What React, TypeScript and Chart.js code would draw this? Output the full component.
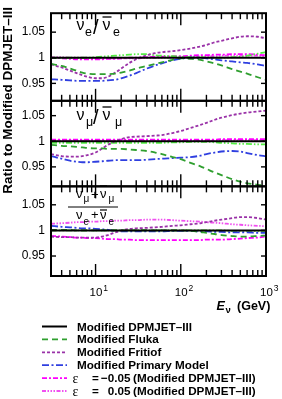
import { useEffect, useRef } from "react";
import { Chart, registerables } from "chart.js";

Chart.register(...registerables);

// ---------------- data ----------------
const energies = [3, 4, 5, 6, 7, 8, 10, 12, 14, 17, 20, 25, 30, 40, 50, 60, 80, 100, 130, 170, 200, 250, 300, 400, 500, 600, 800, 1000];
const dpmjetEnergies = [3, 1000];
const dpmjetRatio = [1, 1];

// panel 1: nu_e / nubar_e
const nueFluka = [0.988, 0.984, 0.979, 0.975, 0.971, 0.969, 0.968, 0.968, 0.968, 0.969, 0.971, 0.975, 0.979, 0.984, 0.988, 0.991, 0.996, 0.999, 0.998, 0.996, 0.993, 0.989, 0.985, 0.978, 0.973, 0.969, 0.962, 0.957];
const nueFritiof = [0.987, 0.981, 0.975, 0.970, 0.966, 0.963, 0.960, 0.960, 0.963, 0.971, 0.979, 0.990, 0.997, 1.005, 1.009, 1.011, 1.013, 1.015, 1.018, 1.022, 1.025, 1.030, 1.033, 1.038, 1.041, 1.042, 1.041, 1.038];
const nuePrimary = [0.958, 0.957, 0.956, 0.955, 0.955, 0.955, 0.955, 0.955, 0.956, 0.957, 0.960, 0.965, 0.970, 0.979, 0.985, 0.989, 0.995, 0.998, 1.000, 1.000, 0.999, 0.997, 0.995, 0.993, 0.991, 0.990, 0.987, 0.984];
const nueOther = [1.000, 1.000, 1.000, 1.000, 1.000, 1.000, 1.001, 1.002, 1.003, 1.004, 1.005, 1.006, 1.007, 1.007, 1.005, 1.004, 1.003, 1.002, 1.001, 1.001, 1.000, 1.000, 1.000, 1.001, 1.002, 1.004, 1.008, 1.011];
const nueEpsMinus = [1.000, 0.999, 0.998, 0.997, 0.997, 0.997, 0.997, 0.997, 0.998, 0.998, 0.999, 1.000, 1.000, 1.001, 1.002, 1.002, 1.003, 1.003, 1.004, 1.005, 1.005, 1.006, 1.006, 1.007, 1.007, 1.007, 1.006, 1.005];
const nueEpsPlus = [1.001, 1.001, 1.000, 1.000, 1.000, 1.000, 0.999, 0.999, 0.999, 0.999, 0.999, 0.999, 0.999, 1.000, 1.000, 1.000, 1.001, 1.001, 1.002, 1.002, 1.003, 1.003, 1.004, 1.004, 1.004, 1.004, 1.004, 1.003];

// panel 2: nu_mu / nubar_mu
const numuFluka = [0.993, 0.991, 0.990, 0.989, 0.988, 0.987, 0.986, 0.986, 0.985, 0.985, 0.985, 0.984, 0.983, 0.981, 0.978, 0.975, 0.969, 0.965, 0.958, 0.951, 0.946, 0.939, 0.934, 0.926, 0.921, 0.918, 0.915, 0.913];
const numuFritiof = [0.975, 0.971, 0.970, 0.970, 0.971, 0.973, 0.978, 0.986, 0.993, 1.000, 1.004, 1.008, 1.009, 1.010, 1.011, 1.012, 1.016, 1.020, 1.026, 1.032, 1.036, 1.042, 1.046, 1.051, 1.054, 1.056, 1.058, 1.060];
const numuPrimary = [0.971, 0.966, 0.962, 0.960, 0.959, 0.959, 0.960, 0.961, 0.962, 0.963, 0.963, 0.963, 0.963, 0.964, 0.965, 0.966, 0.967, 0.968, 0.969, 0.972, 0.975, 0.978, 0.980, 0.981, 0.980, 0.977, 0.973, 0.971];
const numuOther = [0.997, 0.997, 0.997, 0.997, 0.997, 0.997, 0.997, 0.997, 0.997, 0.997, 0.997, 0.997, 0.997, 0.997, 0.997, 0.997, 0.998, 0.998, 0.999, 0.999, 0.999, 0.998, 0.997, 0.996, 0.995, 0.995, 0.994, 0.994];
const numuEpsMinus = [1.003, 1.003, 1.003, 1.003, 1.003, 1.003, 1.003, 1.003, 1.003, 1.003, 1.003, 1.003, 1.003, 1.003, 1.003, 1.003, 1.003, 1.003, 1.003, 1.003, 1.003, 1.003, 1.004, 1.004, 1.004, 1.004, 1.004, 1.004];
const numuEpsPlus = [1.001, 1.001, 1.001, 1.001, 1.001, 1.001, 1.001, 1.001, 1.001, 1.001, 1.001, 1.001, 1.001, 1.001, 1.001, 1.001, 1.001, 1.001, 1.001, 1.001, 1.001, 1.001, 1.002, 1.002, 1.002, 1.002, 1.002, 1.002];

// panel 3: (nu_mu + nubar_mu) / (nu_e + nubar_e)
const flavFluka = [1.001, 1.001, 1.001, 1.000, 1.000, 1.000, 1.000, 1.000, 1.000, 1.000, 1.000, 1.000, 1.000, 1.000, 1.000, 1.000, 1.000, 1.000, 0.999, 0.997, 0.995, 0.993, 0.991, 0.989, 0.988, 0.988, 0.989, 0.990];
const flavFritiof = [0.988, 0.987, 0.987, 0.986, 0.986, 0.986, 0.986, 0.988, 0.991, 0.996, 1.000, 1.003, 1.004, 1.005, 1.006, 1.007, 1.009, 1.010, 1.012, 1.014, 1.016, 1.019, 1.021, 1.024, 1.026, 1.026, 1.024, 1.021];
const flavPrimary = [1.009, 1.007, 1.006, 1.005, 1.004, 1.004, 1.003, 1.002, 1.001, 0.999, 0.998, 0.998, 0.998, 0.998, 0.998, 0.998, 0.999, 0.999, 0.999, 0.998, 0.998, 0.997, 0.997, 0.996, 0.996, 0.996, 0.995, 0.995];
const flavOther = [1.000, 1.000, 1.000, 1.000, 1.000, 1.000, 1.000, 1.000, 1.000, 1.000, 1.000, 1.000, 1.000, 1.000, 1.000, 1.000, 1.000, 1.000, 1.000, 1.000, 1.000, 1.000, 1.000, 0.999, 0.999, 0.999, 0.999, 0.999];
const flavEpsMinus = [0.989, 0.988, 0.987, 0.986, 0.986, 0.985, 0.985, 0.984, 0.983, 0.983, 0.982, 0.982, 0.981, 0.981, 0.981, 0.981, 0.981, 0.981, 0.981, 0.981, 0.982, 0.982, 0.982, 0.983, 0.984, 0.985, 0.986, 0.988];
const flavEpsPlus = [1.013, 1.014, 1.015, 1.016, 1.016, 1.017, 1.017, 1.018, 1.018, 1.019, 1.019, 1.020, 1.020, 1.021, 1.021, 1.021, 1.020, 1.019, 1.018, 1.017, 1.016, 1.015, 1.014, 1.012, 1.011, 1.010, 1.009, 1.008];

// axes
const panelMins = [0.916, 0.912, 0.911];
const panelMaxs = [1.087, 1.079, 1.086];
const yTickValues = [0.95, 1, 1.05];
const yTickLabels = ["0.95", "1", "1.05"];
const xMajorTicks = [10, 100, 1000];
const xMinorTicks = [3, 4, 5, 6, 7, 8, 9, 20, 30, 40, 50, 60, 70, 80, 90, 200, 300, 400, 500, 600, 700, 800, 900];
const xLabelValues = [10, 100, 1000];
const xLabelBase = "10";
const xLabelExponents = ["1", "2", "3"];
const yTitle = "Ratio to Modified DPMJET\u2013III";

// legend
const legendKeys = ["dpmjet", "fluka", "fritiof", "primary", "epsMinus", "epsPlus"];
const legendTexts = ["Modified DPMJET\u2013III", "Modified Fluka", "Modified Fritiof", "Modified Primary Model", "(Modified DPMJET\u2013III)", "(Modified DPMJET\u2013III)"];
const legendEpsValues = ["", "", "", "", "\u22120.05", "0.05"];

// ---------------- styles ----------------
type Style = { color: string; dash: number[]; width: number };
const STYLES: Record<string, Style> = {
  dpmjet: { color: "#000000", dash: [], width: 2 },
  fluka: { color: "#2f9f2f", dash: [6, 4], width: 1.8 },
  fritiof: { color: "#9a32a8", dash: [3, 2], width: 1.8 },
  primary: { color: "#2f3fe0", dash: [7, 2.5, 2, 2.5], width: 1.8 },
  other: { color: "#55ee44", dash: [6, 2, 1.5, 2, 1.5, 2], width: 1.8 },
  epsMinus: { color: "#ff00ff", dash: [5, 2, 2, 2], width: 1.8 },
  epsPlus: { color: "#f050f0", dash: [4, 1.5, 1.5, 1.5, 1.5, 1.5, 1.5, 1.5], width: 1.8 },
};

const FONT = '"Liberation Sans", Arial, Helvetica, sans-serif';

function series(key: string, xs: number[], ys: number[], axis: string) {
  const st = STYLES[key];
  return {
    label: key + "-" + axis,
    data: xs.map((x, i) => ({ x, y: ys[i] })),
    xAxisID: "x",
    yAxisID: axis,
    borderColor: st.color,
    backgroundColor: st.color,
    borderWidth: st.width,
    borderDash: st.dash,
    borderCapStyle: "butt",
    pointRadius: 0,
    fill: false,
    cubicInterpolationMode: "monotone",
  };
}

const PANELS = [
  { axis: "y1", fluka: nueFluka, fritiof: nueFritiof, primary: nuePrimary, other: nueOther, epsMinus: nueEpsMinus, epsPlus: nueEpsPlus },
  { axis: "y2", fluka: numuFluka, fritiof: numuFritiof, primary: numuPrimary, other: numuOther, epsMinus: numuEpsMinus, epsPlus: numuEpsPlus },
  { axis: "y3", fluka: flavFluka, fritiof: flavFritiof, primary: flavPrimary, other: flavOther, epsMinus: flavEpsMinus, epsPlus: flavEpsPlus },
];

function line(ctx: CanvasRenderingContext2D, x1: number, y1: number, x2: number, y2: number) {
  ctx.beginPath();
  ctx.moveTo(x1, y1);
  ctx.lineTo(x2, y2);
  ctx.stroke();
}

function text(ctx: CanvasRenderingContext2D, s: string, x: number, y: number, font: string) {
  ctx.font = font;
  ctx.fillText(s, x, y);
  return ctx.measureText(s).width;
}

const overlayPlugin = {
  id: "overlay",
  afterDatasetsDraw(chart: any) {
    const ctx: CanvasRenderingContext2D = chart.ctx;
    const xs = chart.scales.x;
    const panels = ["y1", "y2", "y3"].map((id) => chart.scales[id]);
    ctx.save();
    ctx.setLineDash([]);
    ctx.strokeStyle = "#000";
    ctx.fillStyle = "#000";

    // ticks and frames
    for (const ys of panels) {
      ctx.lineWidth = 1.4;
      for (const e of xMinorTicks) {
        const px = xs.getPixelForValue(e);
        line(ctx, px, ys.top, px, ys.top + 6);
        line(ctx, px, ys.bottom, px, ys.bottom - 6);
      }
      for (const e of xMajorTicks) {
        const px = xs.getPixelForValue(e);
        line(ctx, px, ys.top, px, ys.top + 12);
        line(ctx, px, ys.bottom, px, ys.bottom - 12);
      }
      for (const v of yTickValues) {
        const py = ys.getPixelForValue(v);
        line(ctx, xs.left, py, xs.left + 5, py);
        line(ctx, xs.right, py, xs.right - 5, py);
      }
      ctx.lineWidth = 2;
      ctx.strokeRect(xs.left, ys.top, xs.right - xs.left, ys.bottom - ys.top);
    }

    // x tick labels (10^n)
    ctx.textAlign = "left";
    ctx.textBaseline = "alphabetic";
    const bottom = panels[2].bottom;
    xLabelValues.forEach((v, i) => {
      const px = xs.getPixelForValue(v);
      const w = text(ctx, xLabelBase, px - 6, bottom + 20, `11.5px ${FONT}`);
      text(ctx, xLabelExponents[i], px - 6 + w + 1, bottom + 14.5, `8.5px ${FONT}`);
    });

    // x title
    let tx = 216.5;
    text(ctx, "E", tx, bottom + 33.5, `italic bold 12.5px ${FONT}`);
    text(ctx, "\u03bd", 225.5, bottom + 37, `bold 9.5px ${FONT}`);
    text(ctx, "(GeV)", 237, bottom + 33.5, `bold 12.5px ${FONT}`);

    // y title
    ctx.save();
    ctx.translate(11.5, 7);
    ctx.rotate(-Math.PI / 2);
    ctx.textAlign = "right";
    text(ctx, yTitle, 0, 0, `bold 13.5px ${FONT}`);
    ctx.restore();

    // panel labels
    ctx.textAlign = "left";
    ctx.lineWidth = 1.3;
    const big = `16px ${FONT}`;
    const sub = `12.5px ${FONT}`;
    const slash = `20px ${FONT}`;
    // panel 1
    text(ctx, "\u03bd", 76.5, 30, big);
    text(ctx, "e", 85, 36, sub);
    text(ctx, "/", 93, 33.5, slash);
    text(ctx, "\u03bd", 102.5, 30, big);
    line(ctx, 102.5, 17, 111.5, 17);
    text(ctx, "e", 113, 36, sub);
    // panel 2
    text(ctx, "\u03bd", 76.5, 120, big);
    text(ctx, "\u03bc", 86, 125.5, sub);
    text(ctx, "/", 93, 123.5, slash);
    text(ctx, "\u03bd", 102.5, 120, big);
    line(ctx, 102.5, 107, 111.5, 107);
    text(ctx, "\u03bc", 115, 125.5, sub);
    // panel 3 fraction
    const mid = `13px ${FONT}`;
    const small = `10px ${FONT}`;
    text(ctx, "\u03bd", 76, 198, mid);
    text(ctx, "\u03bc", 83.5, 201.5, small);
    text(ctx, "+", 91, 198.5, mid);
    text(ctx, "\u03bd", 100, 198, mid);
    line(ctx, 100, 186, 107, 186);
    text(ctx, "\u03bc", 108.5, 201.5, small);
    ctx.lineWidth = 1;
    line(ctx, 68, 207, 118, 207);
    text(ctx, "\u03bd", 76, 218.5, mid);
    text(ctx, "e", 83.5, 224.5, small);
    text(ctx, "+", 91, 219, mid);
    text(ctx, "\u03bd", 100, 218.5, mid);
    ctx.lineWidth = 1.2;
    line(ctx, 100, 210, 107, 210);
    text(ctx, "e", 108.5, 224.5, small);

    // legend
    legendKeys.forEach((key, i) => {
      const st = STYLES[key];
      const y = 326.5 + i * 12.9;
      ctx.save();
      ctx.strokeStyle = st.color;
      ctx.lineWidth = st.width;
      ctx.setLineDash(st.dash);
      line(ctx, 42, y, 67, y);
      ctx.restore();
      ctx.fillStyle = "#000";
      const bold = `bold 11.7px ${FONT}`;
      if (legendEpsValues[i]) {
        ctx.textAlign = "left";
        text(ctx, "\u03b5", 72.5, y + 4.5, `14px "Liberation Serif", serif`);
        text(ctx, "=", 92, y + 4, bold);
        ctx.textAlign = "right";
        text(ctx, legendEpsValues[i], 130.5, y + 4, bold);
        ctx.textAlign = "left";
        text(ctx, legendTexts[i], 133, y + 4, bold);
      } else {
        ctx.textAlign = "left";
        text(ctx, legendTexts[i], 77, y + 4, bold);
      }
    });

    ctx.restore();
  },
};

function yScale(i: number) {
  return {
    type: "linear",
    position: "left",
    stack: "panels",
    stackWeight: panelMaxs[i] - panelMins[i],
    weight: 3 - i,
    min: panelMins[i],
    max: panelMaxs[i],
    grid: { display: false, drawTicks: false },
    border: { display: false },
    ticks: {
      color: "#000",
      padding: 6,
      font: { family: FONT, size: 12 },
      callback: (_v: any, idx: number) => yTickLabels[idx],
    },
    afterBuildTicks: (s: any) => {
      s.ticks = yTickValues.map((v) => ({ value: v }));
    },
    afterFit: (s: any) => {
      s.width = 51;
    },
  };
}

export default function App() {
  const ref = useRef<HTMLCanvasElement | null>(null);

  useEffect(() => {
    if (!ref.current) return;
    const datasets: any[] = [];
    for (const p of PANELS) {
      datasets.push(series("dpmjet", dpmjetEnergies, dpmjetRatio, p.axis));
      datasets.push(series("fluka", energies, p.fluka, p.axis));
      datasets.push(series("fritiof", energies, p.fritiof, p.axis));
      datasets.push(series("primary", energies, p.primary, p.axis));
      datasets.push(series("other", energies, p.other, p.axis));
      datasets.push(series("epsMinus", energies, p.epsMinus, p.axis));
      datasets.push(series("epsPlus", energies, p.epsPlus, p.axis));
    }
    const chart = new Chart(ref.current, {
      type: "line",
      data: { datasets },
      options: {
        responsive: false,
        animation: false,
        events: [],
        layout: { padding: { left: 0, right: 16, top: 2, bottom: 123 } },
        plugins: { legend: { display: false }, tooltip: { enabled: false }, title: { display: false } },
        scales: {
          x: { type: "logarithmic", min: 3, max: 1000, display: false },
          y1: yScale(0),
          y2: yScale(1),
          y3: yScale(2),
        } as any,
      },
      plugins: [overlayPlugin],
    } as any);
    return () => chart.destroy();
  }, []);

  return (
    <div style={{ position: "fixed", left: 0, top: 0, width: 282, height: 399, background: "#fff" }}>
      <canvas ref={ref} width={282} height={399} style={{ display: "block" }} />
    </div>
  );
}
